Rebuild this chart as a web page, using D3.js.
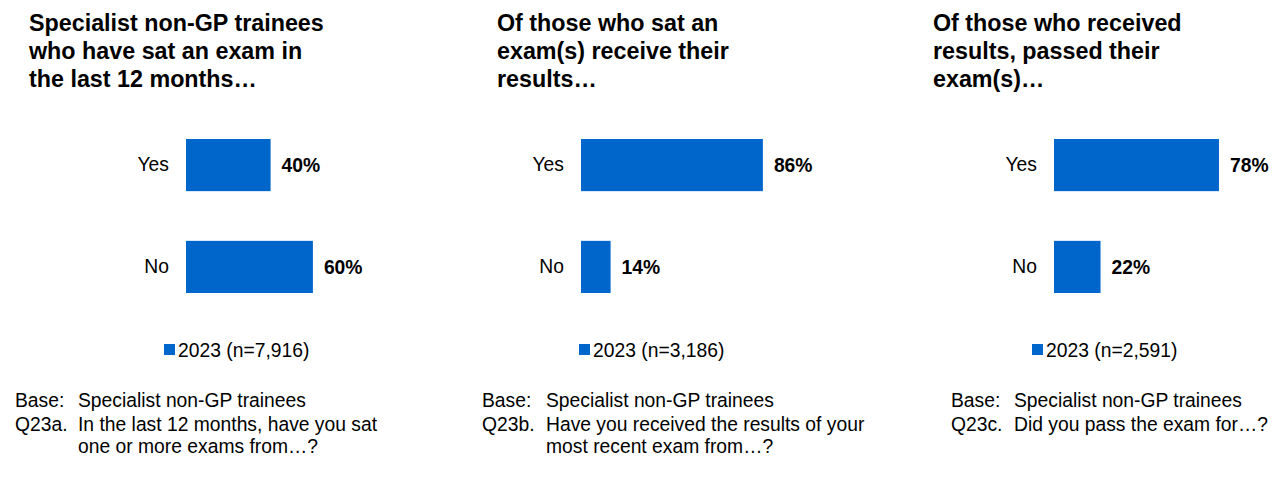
<!DOCTYPE html>
<html>
<head>
<meta charset="utf-8">
<script src="https://cdn.jsdelivr.net/npm/d3@7"></script>
<style>
  html, body { margin: 0; padding: 0; background: #fff; }
  svg { display: block; font-family: "Liberation Sans", Arial, sans-serif; }
</style>
</head>
<body>
<svg id="chart" width="1285" height="480"></svg>
<script>
// ---- Data ----
const categories = ["Yes", "No"];
const valuesSat = [40, 60];
const valuesReceived = [86, 14];
const valuesPassed = [78, 22];

const titleSat = ["Specialist non-GP trainees", "who have sat an exam in", "the last 12 months\u2026"];
const titleReceived = ["Of those who sat an", "exam(s) receive their", "results\u2026"];
const titlePassed = ["Of those who received", "results, passed their", "exam(s)\u2026"];

const legendLabels = ["2023 (n=7,916)", "2023 (n=3,186)", "2023 (n=2,591)"];

const baseText = ["Specialist non-GP trainees", "Specialist non-GP trainees", "Specialist non-GP trainees"];
const questionCodes = ["Q23a.", "Q23b.", "Q23c."];
const questionLines = [
  ["In the last 12 months, have you sat", "one or more exams from\u2026?"],
  ["Have you received the results of your", "most recent exam from\u2026?"],
  ["Did you pass the exam for\u2026?"]
];

// ---- Layout ----
const color = "#0066CC";
const svg = d3.select("#chart");

const panels = [
  { values: valuesSat, title: titleSat, titleX: 29, barX: 186, legendX: 164, baseX: 15, indentX: 78 },
  { values: valuesReceived, title: titleReceived, titleX: 497, barX: 581, legendX: 579, baseX: 482, indentX: 546 },
  { values: valuesPassed, title: titlePassed, titleX: 933, barX: 1054, legendX: 1032, baseX: 951, indentX: 1014 }
];

const y = d3.scaleBand().domain(categories).range([139, 293]).paddingInner(0.488).paddingOuter(0);

panels.forEach((p, i) => {
  const g = svg.append("g");

  // Title
  const t = g.append("text")
    .attr("x", p.titleX).attr("y", 30.5)
    .attr("font-size", 23.3).attr("font-weight", "bold").attr("fill", "#000");
  p.title.forEach((line, k) => {
    t.append("tspan").attr("x", p.titleX).attr("dy", k === 0 ? 0 : 28).text(line);
  });

  const x = d3.scaleLinear().domain([0, 100]).range([p.barX, p.barX + 211.5]);

  // Category axis
  const ax = g.append("g")
    .attr("transform", `translate(${p.barX},0)`)
    .call(d3.axisLeft(y).tickSize(0).tickPadding(17));
  ax.select(".domain").remove();
  ax.selectAll("text")
    .attr("font-size", 19.3)
    .attr("font-family", "\"Liberation Sans\", Arial, sans-serif")
    .attr("fill", "#000");

  const data = categories.map((c, k) => ({ cat: c, val: p.values[k] }));

  g.selectAll("rect.bar").data(data).join("rect")
    .attr("class", "bar")
    .attr("x", x(0))
    .attr("y", d => y(d.cat))
    .attr("width", d => x(d.val) - x(0))
    .attr("height", y.bandwidth())
    .attr("fill", color);

  g.selectAll("text.val").data(data).join("text")
    .attr("class", "val")
    .attr("x", d => x(d.val) + 11)
    .attr("y", d => y(d.cat) + y.bandwidth() / 2)
    .attr("dy", "0.35em")
    .attr("font-size", 19.3).attr("font-weight", "bold").attr("fill", "#000")
    .text(d => d.val + "%");

  // Legend
  g.append("rect")
    .attr("x", p.legendX).attr("y", 344)
    .attr("width", 11).attr("height", 11)
    .attr("fill", color);
  g.append("text")
    .attr("x", p.legendX + 14).attr("y", 356.5)
    .attr("font-size", 19.3).attr("fill", "#000")
    .text(legendLabels[i]);

  // Base / question notes
  g.append("text").attr("x", p.baseX).attr("y", 406.5)
    .attr("font-size", 19.3).attr("fill", "#000").text("Base:");
  g.append("text").attr("x", p.indentX).attr("y", 406.5)
    .attr("font-size", 19.3).attr("fill", "#000").text(baseText[i]);
  g.append("text").attr("x", p.baseX).attr("y", 430.5)
    .attr("font-size", 19.3).attr("fill", "#000").text(questionCodes[i]);
  questionLines[i].forEach((line, k) => {
    g.append("text").attr("x", p.indentX).attr("y", 430.5 + k * 22)
      .attr("font-size", 19.3).attr("fill", "#000").text(line);
  });
});
</script>
</body>
</html>
